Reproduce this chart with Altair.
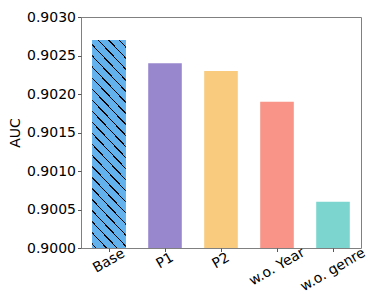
import altair as alt
import pandas as pd

categories = ["Base", "P1", "P2", "w.o. Year", "w.o. genre"]
auc = [0.9027, 0.9024, 0.9023, 0.9019, 0.9006]
colors = ["#63b2ee", "#9987ce", "#f8cb7f", "#f89588", "#7cd6cf"]
y_ticks = [0.9000, 0.9005, 0.9010, 0.9015, 0.9020, 0.9025, 0.9030]

df = pd.DataFrame({"method": categories, "auc": auc, "base": [y_ticks[0]] * len(categories)})

# hatch ("\\") pattern for the Base bar, built as a hard-stop linear gradient
bw, bh = 35.0, 205.0      # approx pixel size of the hatched bar
period = 11.0             # stripe spacing along (x - y)
line = 1.5                # stripe thickness along (x - y)
span = bw + bh
n = int(round(span / period))
lt = line / span
stops = []
for i in range(n):
    a = i / n + 0.3 / n
    stops += [
        {"offset": a, "color": colors[0]},
        {"offset": a, "color": "#000000"},
        {"offset": min(a + lt, 1), "color": "#000000"},
        {"offset": min(a + lt, 1), "color": colors[0]},
    ]
stops = [{"offset": 0, "color": colors[0]}] + stops + [{"offset": 1, "color": colors[0]}]
k = span / (bw ** 2 + bh ** 2)
hatch = alt.LinearGradient(gradient="linear", stops=stops, x1=0, y1=1, x2=k * bw, y2=1 - k * bh)

x_enc = alt.X(
    "method:N",
    sort=categories,
    scale=alt.Scale(paddingInner=0.4, paddingOuter=0.2),
    axis=alt.Axis(
        title=None,
        labelAngle=-30,
        labelAlign="center",
        labelBaseline="middle",
        labelFontSize=14,
        labelColor="black",
        labelPadding={
            "condition": [
                {"test": "datum.value == 'w.o. genre'", "value": 18},
                {"test": "datum.value == 'w.o. Year'", "value": 15},
            ],
            "value": 9,
        },
        tickSize=3.5,
        tickColor="#555555",
        domain=False,
    ),
)
y_enc = alt.Y(
    "auc:Q",
    stack=None,
    scale=alt.Scale(domain=[y_ticks[0], y_ticks[-1]], nice=False, zero=False),
    axis=alt.Axis(
        title="AUC",
        values=y_ticks,
        format=".4f",
        grid=False,
        labelFontSize=14,
        labelColor="black",
        titleFontSize=14,
        titleFontWeight="normal",
        titleColor="black",
        titlePadding=4,
        tickSize=3.5,
        tickColor="#555555",
        domain=False,
    ),
)

bars = alt.Chart(df).mark_bar().encode(
    x=x_enc,
    y=y_enc,
    y2="base:Q",
    color=alt.Color("method:N", scale=alt.Scale(domain=categories, range=colors), legend=None),
)

hatched = alt.Chart(df).transform_filter("datum.method == 'Base'").mark_bar(fill=hatch).encode(
    x=x_enc,
    y=y_enc,
    y2="base:Q",
)

chart = (
    alt.layer(bars, hatched)
    .properties(
        width=362,
        height=286,
        autosize=alt.AutoSizeParams(type="fit", contains="padding"),
        padding={"left": 0, "top": 2, "right": 9, "bottom": 0},
        background="white",
    )
    .configure(font="DejaVu Sans")
    .configure_view(stroke="#808080", strokeWidth=1)
)

chart.save("out.html", embed_options={"renderer": "svg", "actions": False})
